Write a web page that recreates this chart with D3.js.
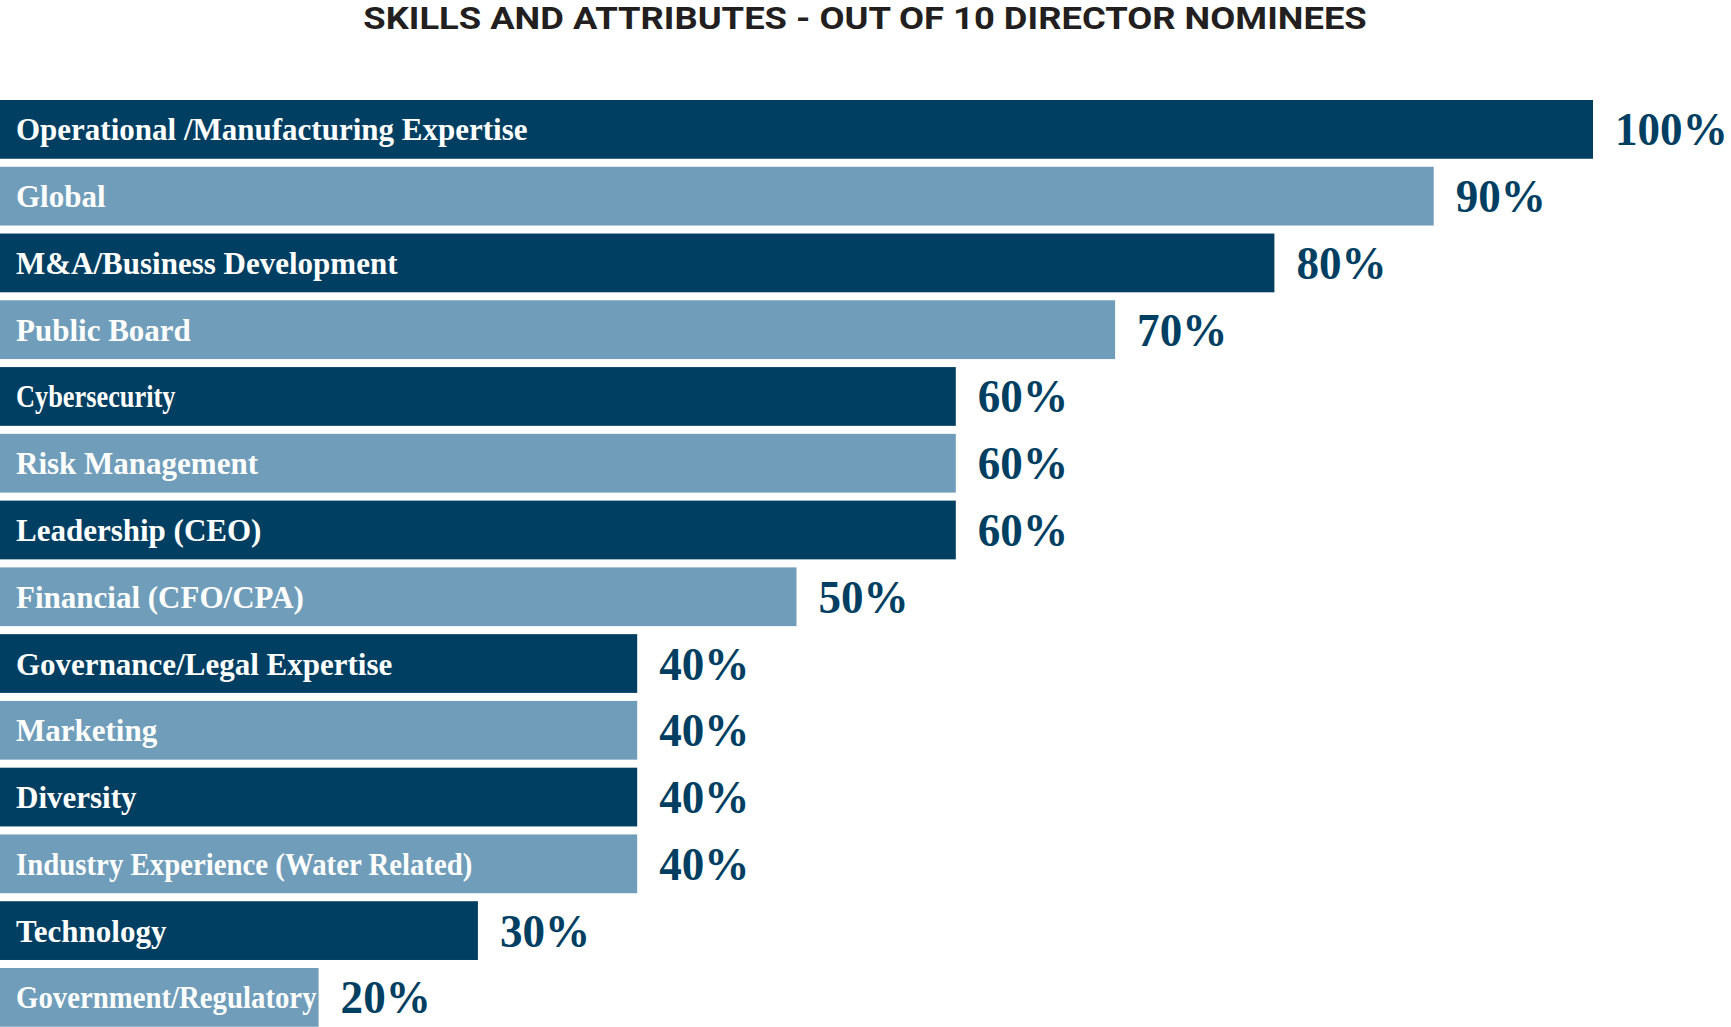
<!DOCTYPE html>
<html><head><meta charset="utf-8">
<script src="https://cdn.jsdelivr.net/npm/d3@7"></script>
<style>body{margin:0;background:#fff;}svg{display:block;}</style>
</head><body>
<script>
const title = "SKILLS AND ATTRIBUTES - OUT OF 10 DIRECTOR NOMINEES";
const categories = ["Operational /Manufacturing Expertise","Global","M&A/Business Development","Public Board","Cybersecurity","Risk Management","Leadership (CEO)","Financial (CFO/CPA)","Governance/Legal Expertise","Marketing","Diversity","Industry Experience (Water Related)","Technology","Government/Regulatory"];
const values = [100,90,80,70,60,60,60,50,40,40,40,40,30,20];
const colors = ["#013f62","#709dba"];
// per-label horizontal condensing seen in the original typesetting
const condense = {"Cybersecurity":0.85,"Industry Experience (Water Related)":0.93};

const W = 1731, H = 1027;
const svg = d3.select("body").append("svg").attr("width", W).attr("height", H);

const x = d3.scaleLinear().domain([0,100]).range([0,1593]);
const y = d3.scaleBand().domain(categories).range([100, 100 + 13*66.75 + 59]).paddingInner(0.12).paddingOuter(0);

const t = svg.append("text").attr("x", 865).attr("y", 29).attr("text-anchor","middle")
  .style("font-family","'Liberation Sans Narrow','Roboto','Liberation Sans',sans-serif").style("font-weight","bold")
  .style("font-size","31px").attr("fill","#231f20").text(title);
const tw = t.node().getComputedTextLength();
t.attr("transform", `translate(865,0) scale(${1004/tw},1) translate(-865,0)`);

const g = svg.append("g");
const rows = g.selectAll("g.row").data(categories).join("g").attr("class","row");
rows.append("rect").attr("x", x(0)).attr("y", d => y(d)).attr("height", y.bandwidth())
  .attr("width", (d,i) => x(values[i]) - x(0)).attr("fill", (d,i) => colors[i%2]);
rows.append("text").attr("x", 16).attr("y", d => y(d) + y.bandwidth()/2 + 11)
  .style("font-family","'Liberation Serif','Times New Roman',serif").style("font-weight","bold")
  .style("font-size","31px").attr("fill","#fff").text(d => d)
  .each(function(d,i){
    const w = this.getComputedTextLength();
    const avail = x(values[i]) - 18;
    const k = Math.min(condense[d] || 1.0, avail / w);
    d3.select(this).attr("transform", `translate(16,0) scale(${k},1) translate(-16,0)`);
  });
rows.append("text").attr("x", (d,i) => x(values[i]) + 22).attr("y", d => y(d) + y.bandwidth()/2 + 16)
  .style("font-family","'Liberation Serif','Times New Roman',serif").style("font-weight","bold")
  .style("font-size","47px").attr("fill","#013f62").text((d,i) => values[i] + "%")
  .each(function(d,i){
    const x0 = x(values[i]) + 22;
    d3.select(this).attr("transform", `translate(${x0},0) scale(0.96,1) translate(${-x0},0)`);
  });
</script>
</body></html>
